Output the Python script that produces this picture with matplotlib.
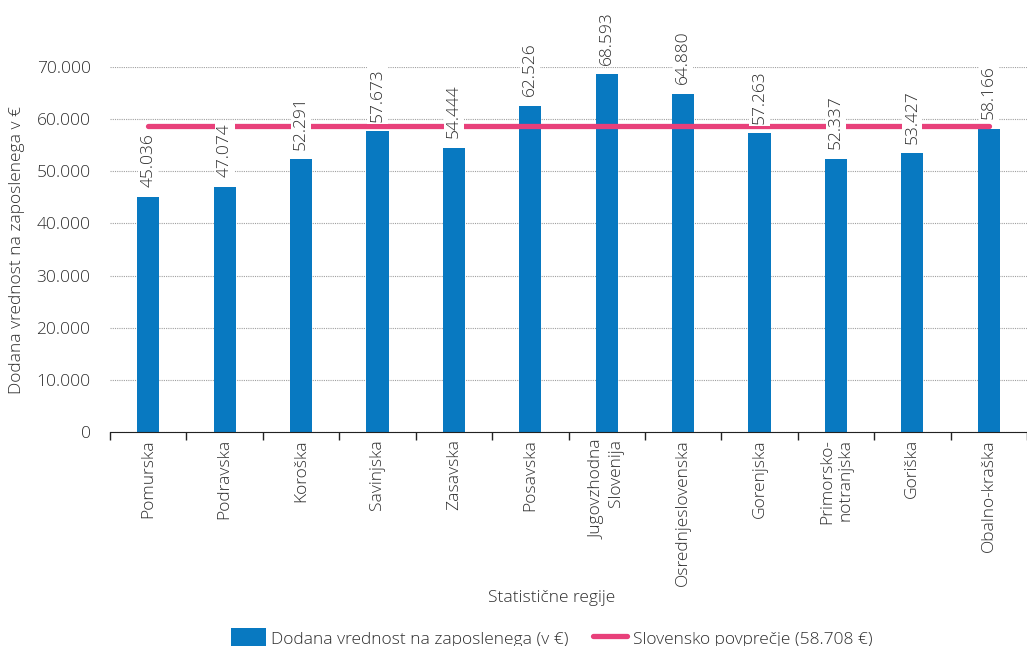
import matplotlib
matplotlib.use("Agg")
import matplotlib.pyplot as plt
from matplotlib.lines import Line2D
from matplotlib.patches import Patch

regions = ["Pomurska", "Podravska", "Koroška", "Savinjska", "Zasavska",
           "Posavska", "Jugovzhodna\nSlovenija", "Osrednjeslovenska",
           "Gorenjska", "Primorsko-\nnotranjska", "Goriška", "Obalno-kraška"]
values = [45036, 47074, 52291, 57673, 54444, 62526, 68593, 64880,
          57263, 52337, 53427, 58166]
average = 58708
yticks = [0, 10000, 20000, 30000, 40000, 50000, 60000, 70000]

BLUE = "#0879C1"
PINK = "#E8407A"
TXT = "#2e2e2e"

plt.rcParams["font.family"] = ["Open Sans", "DejaVu Sans"]
plt.rcParams["font.weight"] = "light"
plt.rcParams["axes.labelweight"] = "light"

def fmt(v):
    return f"{v:,}".replace(",", ".")

fig = plt.figure(figsize=(10.27, 6.46), dpi=100)
ax = fig.add_axes([110 / 1027, 1 - 432 / 646, 917 / 1027, 365 / 646])

x = list(range(len(regions)))
ax.bar(x, values, width=0.29, color=BLUE, zorder=2)
ax.plot([x[0], x[-1]], [average, average], color=PINK, lw=3.8,
        solid_capstyle="round", zorder=3)

for xi, v in zip(x, values):
    ax.annotate(fmt(v), (xi, v), xytext=(0, 7), textcoords="offset points",
                rotation=90, ha="center", va="bottom", fontsize=12.5,
                color=TXT, annotation_clip=False, zorder=4,
                bbox=dict(facecolor="white", edgecolor="none", pad=1.5))

ax.set_xlim(-0.5, len(regions) - 0.5)
ax.set_ylim(0, 70000)
ax.set_yticks(yticks)
ax.set_yticklabels([fmt(t) for t in yticks], fontsize=12.5, color=TXT)
ax.tick_params(axis="y", length=0, pad=14)
ax.yaxis.grid(True, linestyle=(0, (1, 1)), color="#a0a0a0", lw=0.8, zorder=0)
ax.set_axisbelow(True)

# category labels at centres, tick marks at boundaries
ax.set_xticks(x)
ax.set_xticklabels(regions, rotation=90, fontsize=12.5, color=TXT,
                   va="top", ha="center", multialignment="right")
ax.tick_params(axis="x", which="major", length=0, pad=5)
ax.set_xticks([i - 0.5 for i in range(len(regions) + 1)], minor=True)
ax.tick_params(axis="x", which="minor", length=6, color="#222222", width=1)

for s in ["top", "right", "left"]:
    ax.spines[s].set_visible(False)
ax.spines["bottom"].set_color("#222222")

ax.set_ylabel("Dodana vrednost na zaposlenega v €", fontsize=12.5, color=TXT,
              fontweight="light", labelpad=8)
fig.text(0.537, 1 - 598 / 646, "Statistične regije", fontsize=12.5,
         color=TXT, ha="center", va="center", fontweight="light")

handles = [Patch(facecolor=BLUE, edgecolor="none"),
           Line2D([0], [0], color=PINK, lw=3.8, solid_capstyle="round")]
labels = ["Dodana vrednost na zaposlenega (v €)",
          "Slovensko povprečje (58.708 €)"]
leg = fig.legend(handles, labels, loc="center", ncol=2, frameon=False,
                 bbox_to_anchor=(0.537, 1 - 638 / 646), fontsize=12.5,
                 handlelength=2.0, handleheight=1.4, handletextpad=0.3,
                 columnspacing=1.4)
for t in leg.get_texts():
    t.set_color(TXT)

fig.savefig("out.png", dpi=100)
